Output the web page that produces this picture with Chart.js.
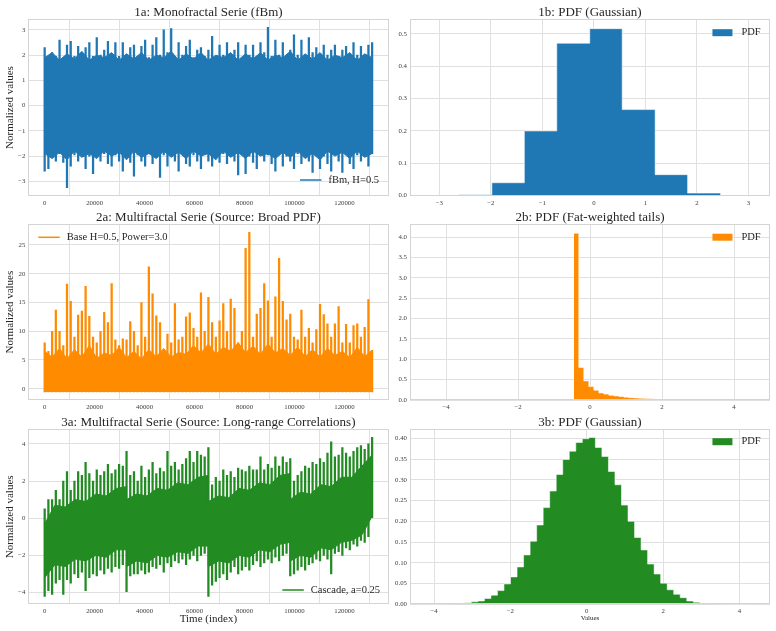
<!DOCTYPE html>
<html>
<head>
<meta charset="utf-8">
<script src="https://cdn.jsdelivr.net/npm/chart.js@4.4.1/dist/chart.umd.min.js"></script>
<style>
  html, body { margin: 0; padding: 0; background: #fff; }
  #figure { position: relative; width: 776px; height: 631px; overflow: hidden; }
  #figure canvas { position: absolute; }
</style>
</head>
<body>
<div id="figure"></div>
<script>
// ---- values ----
const SERIES_LAST = 131071;   // last sample index of every series
const tsTicks = [0, 20000, 40000, 60000, 80000, 100000, 120000];

// 1a: fBm, local highs / lows sampled every ~1490 steps, plus the jagged core band
const fbmHigh = [
  2.3, 1.9, 2.1, 1.95, 2.6, 1.9, 2.4, 2.55, 1.95, 2.35,
  1.9, 2.3, 2.5, 1.95, 2.7, 2.0, 2.2, 2.55, 1.9, 2.5,
  1.95, 2.5, 1.9, 2.3, 2.4, 1.95, 2.35, 2.6, 1.9, 2.4,
  2.7, 2.0, 3.0, 2.1, 3.05, 1.95, 2.5, 2.0, 2.35, 2.6,
  1.9, 2.2, 2.3, 1.95, 2.2, 2.75, 1.95, 2.4, 2.0, 2.5,
  1.95, 2.2, 2.5, 1.9, 2.4, 2.0, 2.4, 1.95, 2.5, 2.1,
  3.1, 1.95, 2.6, 2.0, 2.5, 1.9, 2.2, 2.8, 2.0, 2.6,
  1.95, 2.7, 2.1, 2.3, 1.9, 2.4, 2.0, 2.2, 2.4, 1.95,
  2.2, 2.35, 1.9, 2.5, 2.0, 2.35, 1.95, 2.4, 2.5
];
const fbmLow = [
  -2.6, -2.5, -1.95, -2.2, -1.9, -2.25, -3.25, -2.4, -1.95, -2.2,
  -1.9, -2.5, -2.0, -2.7, -1.95, -2.2, -1.9, -2.3, -2.4, -1.95,
  -2.2, -2.6, -1.9, -2.25, -2.8, -1.95, -2.2, -2.4, -1.9, -2.3,
  -2.0, -2.85, -1.95, -2.4, -2.0, -2.2, -2.6, -1.9, -2.3, -2.4,
  -1.95, -2.2, -2.5, -1.9, -2.2, -2.4, -1.95, -2.25, -1.9, -2.3,
  -2.0, -2.2, -2.75, -1.95, -2.7, -2.0, -2.25, -2.5, -1.9, -2.2,
  -1.95, -2.3, -2.6, -1.95, -2.4, -2.0, -2.2, -2.5, -1.9, -2.3,
  -2.0, -2.2, -2.65, -1.95, -2.5, -2.0, -2.3, -2.6, -1.95, -2.2,
  -2.65, -1.9, -2.3, -2.5, -1.95, -2.2, -2.0, -2.4, -1.9
];
const fbmCoreTop = [
  1.9, 2.1, 1.8, 2.05, 1.85, 2.15, 1.8, 2.0, 1.9, 2.1,
  1.8, 2.05, 1.85, 2.1, 1.8, 2.0, 1.9, 2.15, 1.8, 2.05,
  1.85, 2.1, 1.8, 2.0, 1.9, 2.1, 1.8, 2.05, 1.85, 2.1,
  1.8, 2.0, 1.9, 2.15, 1.8, 2.05, 1.85, 2.1, 1.8, 2.0,
  1.9, 2.1, 1.8, 2.05, 1.9
];
const fbmCoreBottom = [
  -1.9, -2.1, -1.85, -2.15, -1.8, -2.05, -1.9, -2.1, -1.8, -2.0,
  -1.85, -2.15, -1.8, -2.05, -1.9, -2.1, -1.8, -2.05, -1.85, -2.1,
  -1.8, -2.0, -1.9, -2.15, -1.8, -2.05, -1.85, -2.1, -1.8, -2.0,
  -1.9, -2.1, -1.85, -2.05, -1.8, -2.1, -1.9, -2.15, -1.8, -2.0,
  -1.85, -2.1, -1.8, -2.05, -1.9
];
const fbmTicksY = [-3, -2, -1, 0, 1, 2, 3];

// 1b: histogram of 1a (10 bins)
const gaussEdges = [-3.25, -2.62, -1.98, -1.35, -0.72, -0.08, 0.55, 1.19, 1.82, 2.46, 3.09];
const gaussDensity = [0.0003, 0.003, 0.040, 0.200, 0.471, 0.516, 0.266, 0.065, 0.008, 0.0005];
const pdf1TicksX = [-3, -2, -1, 0, 1, 2, 3];
const pdf1TicksY = [0, 0.1, 0.2, 0.3, 0.4, 0.5];

// 2a: broad-PDF series, peaks every ~1490 steps and the dense core top
const broadPeaks = [
  8.0, 6.5, 10, 13.7, 10, 7.5, 18.2, 15.2, 9, 12.8,
  13.5, 17.8, 12.6, 9, 8, 10, 13.3, 11.5, 18.3, 8.5,
  7.5, 8.7, 8.5, 11.7, 10, 7.5, 15, 9, 21.2, 16.5,
  12.7, 11.5, 6, 9.5, 8, 14.8, 8.5, 9, 12.5, 13.2,
  10.5, 9, 16.7, 10, 15.9, 11.5, 9, 11.8, 14.8, 10,
  15.6, 14, 8, 10, 24.4, 27.2, 9, 13, 14, 18.3,
  15.3, 9, 16, 22.7, 15.2, 12, 13, 9, 8.5, 13.7,
  9, 10.5, 8, 10.3, 14.7, 12.9, 11.3, 9, 11.3, 14.3,
  8, 11.2, 8, 11, 11.3, 9, 10.7, 15.5, 6.7
];
const broadCore = [
  6.5, 5.5, 7.0, 5.2, 6.8, 5.5, 7.5, 5.3, 6.2, 5.8,
  7.2, 5.4, 6.5, 5.2, 6.8, 5.6, 7.0, 5.5, 6.3, 6.0,
  7.5, 6.2, 7.8, 6.0, 7.2, 6.5, 8.0, 6.3, 7.4, 6.0,
  7.8, 6.2, 7.0, 5.8, 7.2, 5.6, 6.8, 5.5, 7.0, 5.8,
  6.5, 5.4, 7.2, 5.6, 6.7
];
const broadFloor = -0.57;
const broadTicksY = [0, 5, 10, 15, 20, 25];

// 2b: histogram with fat tail
const fatStart = -0.45;
const fatWidth = 0.139;
const fatDensity = [
  4.10, 0.80, 0.47, 0.33, 0.24, 0.175, 0.145, 0.115, 0.10, 0.085,
  0.07, 0.058, 0.049, 0.042, 0.036, 0.031, 0.027, 0.023, 0.020, 0.017,
  0.015, 0.013, 0.011, 0.010, 0.009, 0.008, 0.007, 0.006, 0.005
];
const pdf2TicksX = [-4, -2, 0, 2, 4];
const pdf2TicksY = [0, 0.5, 1, 1.5, 2, 2.5, 3, 3.5, 4];

// 3a: cascade, highs / lows every ~1490 steps and the sawtooth core band
const cascHigh = [
  0.5, 1.0, 1.0, 1.5, 1.0, 2.0, 2.5, 1.5, 2.0, 2.5, 2.3, 3.0, 2.4, 2.0, 2.6, 2.3, 2.5, 2.9, 2.4, 2.6, 2.9, 2.8,
  3.6,
  2.3, 2.5, 2.0, 2.8, 2.2, 2.6, 3.0, 2.4, 2.7, 2.5, 3.6, 2.8, 3.0, 2.6, 2.9, 3.2, 3.6, 3.0, 3.6, 3.4, 3.3,
  3.8,
  1.8, 2.2, 2.0, 2.6, 2.3, 2.5, 2.2, 2.7, 2.6, 2.5, 2.8, 2.6, 2.6, 3.3, 2.6, 2.9, 2.7, 3.3, 2.8, 3.3, 3.0,
  3.2,
  2.0, 2.3, 2.5, 2.8, 2.7, 3.0, 2.9, 3.2, 3.0, 3.5, 4.1, 3.3, 3.4, 3.8, 3.5, 3.3, 3.6, 3.8, 3.9, 3.7, 4.0, 4.35
];
const cascLow = [
  -4.2, -3.9, -4.1, -3.5, -3.3, -4.1, -3.3, -3.5, -3.0, -3.2, -2.9, -3.9, -3.2, -3.0, -3.1, -2.8, -3.0, -2.7, -2.9, -2.6, -2.7, -2.5,
  -3.95,
  -3.1, -3.0, -3.0, -2.8, -3.0, -2.9, -2.6, -2.7, -2.5, -2.9, -2.4, -2.6, -2.3, -2.4, -2.2, -2.5, -2.2, -2.0, -2.3, -2.0, -1.9,
  -4.2,
  -3.6, -3.4, -3.2, -3.0, -3.3, -2.9, -2.6, -3.0, -2.8, -2.6, -2.8, -2.5, -2.3, -2.6, -2.4, -2.2, -2.4, -2.1, -2.3, -2.0, -1.9,
  -3.1,
  -3.0, -2.8, -2.6, -2.8, -2.5, -2.4, -2.2, -2.3, -2.0, -2.2, -3.0, -1.9, -1.8, -2.0, -1.6, -1.7, -1.4, -1.5, -1.2, -1.3, -1.0, 0.0
];
const cascCoreX = [
  0, 4096, 8192, 12288, 16384, 20480, 24576, 28672, 32767,
  32768, 36864, 40960, 45056, 49152, 53248, 57344, 61440, 65535,
  65536, 69632, 73728, 77824, 81920, 86016, 90112, 94208, 98303,
  98304, 102400, 106496, 110592, 114688, 118784, 122880, 126976, 131071
];
const cascCoreTop = [
  -0.3, 0.7, 0.6, 1.0, 0.9, 1.3, 1.2, 1.6, 1.7,
  1.0, 1.3, 1.2, 1.6, 1.5, 1.9, 1.8, 2.2, 2.3,
  0.9, 1.2, 1.1, 1.6, 1.5, 1.9, 1.8, 2.3, 2.4,
  1.0, 1.4, 1.3, 1.8, 1.7, 2.2, 2.2, 2.8, 3.4
];
const cascCoreBottom = [
  -3.2, -2.5, -2.6, -2.2, -2.3, -2.0, -2.1, -1.7, -1.7,
  -2.6, -2.3, -2.4, -2.0, -2.1, -1.8, -1.9, -1.5, -1.5,
  -2.6, -2.3, -2.4, -2.0, -2.1, -1.7, -1.8, -1.4, -1.3,
  -2.3, -2.0, -2.1, -1.6, -1.7, -1.3, -1.2, -0.9, 0.1
];
const cascTicksY = [-4, -2, 0, 2, 4];

// 3b: histogram of 3a (50 bins)
const cascStart = -4.22;
const cascWidth = 0.171;
const cascDensity = [
  0.0001, 0.0002, 0.0004, 0.0006, 0.001, 0.002, 0.004, 0.006, 0.008, 0.014,
  0.022, 0.033, 0.049, 0.066, 0.090, 0.119, 0.152, 0.191, 0.233, 0.273,
  0.313, 0.349, 0.369, 0.390, 0.399, 0.402, 0.378, 0.356, 0.320, 0.288,
  0.239, 0.200, 0.161, 0.131, 0.097, 0.073, 0.051, 0.035, 0.024, 0.016,
  0.008, 0.005, 0.0025, 0.0015, 0.001, 0.0006, 0.0003, 0.0002, 0.0001, 0.0001
];
const pdf3TicksX = [-4, -2, 0, 2, 4];
const pdf3TicksY = [0, 0.05, 0.10, 0.15, 0.20, 0.25, 0.30, 0.35, 0.40];

// ---- styling ----
const SERIF = "'Liberation Serif', 'DejaVu Serif', serif";
const INK = '#262626';
const TICK = '#3a3a3a';
const GRID = '#e0e0e0';
const FRAME = '#d4d4d4';
const BLUE = '#1f77b4';
const ORANGE = '#ff8c00';
const GREEN = '#228b22';
const EDGE = 'rgba(255,255,255,0.55)';

// ---- helpers ----
const sampleX = (n, i) => Math.round(i * SERIES_LAST / (n - 1));
const along = vals => vals.map((v, i) => ({x: sampleX(vals.length, i), y: v}));
const paired = (xs, ys) => xs.map((x, i) => ({x: x, y: ys[i]}));
const needles = (lo, hi) => hi.map((h, i) => ({
  x: sampleX(hi.length, i),
  y: [Array.isArray(lo) ? lo[i] : lo, h]
}));
const binEdges = (start, width, n) => Array.from({length: n + 1}, (_, i) => +(start + i * width).toFixed(4));
function steps(edges, dens) {
  const pts = dens.map((d, i) => ({x: edges[i], y: d}));
  pts.push({x: edges[edges.length - 1], y: dens[dens.length - 1]});
  return pts;
}
const fmt = (v, digits) => (digits == null ? String(v) : v.toFixed(digits)).replace('-', '\u2212');

const panelDecor = {
  id: 'panelDecor',
  afterDraw(chart, _args, opts) {
    const {ctx, chartArea: a} = chart;
    const L = Math.round(a.left) + 0.5, T = Math.round(a.top) + 0.5;
    const R = Math.round(a.right) - 0.5, B = Math.round(a.bottom) - 0.5;
    ctx.save();
    ctx.strokeStyle = FRAME;
    ctx.lineWidth = 1;
    ctx.strokeRect(L, T, R - L, B - T);

    ctx.fillStyle = INK;
    ctx.textAlign = 'center';
    ctx.textBaseline = 'middle';
    ctx.font = '13px ' + SERIF;
    ctx.fillText(opts.title, (a.left + a.right) / 2, a.top - 7);

    const lg = opts.legend;
    ctx.font = '10.5px ' + SERIF;
    ctx.textAlign = 'left';
    const w = ctx.measureText(lg.text).width;
    let tx, ty;
    if (lg.corner === 'br') { tx = a.right - lg.inset - w; ty = a.bottom - lg.offset; }
    else if (lg.corner === 'tr') { tx = a.right - lg.inset - w; ty = a.top + lg.offset; }
    else { tx = a.left + lg.inset; ty = a.top + lg.offset; }
    if (lg.mark === 'line') {
      ctx.strokeStyle = lg.color;
      ctx.lineWidth = 1.5;
      ctx.beginPath();
      ctx.moveTo(tx - 28.5, ty);
      ctx.lineTo(tx - 7, ty);
      ctx.stroke();
    } else {
      ctx.fillStyle = lg.color;
      ctx.fillRect(tx - 29, ty - 3.5, 20, 7);
    }
    ctx.fillStyle = INK;
    ctx.fillText(lg.text, tx, ty);
    ctx.restore();
  }
};

function axis(spec, dir, size) {
  return {
    type: 'linear',
    min: spec.min,
    max: spec.max,
    offset: false,
    grid: {color: GRID, lineWidth: 1, drawTicks: false},
    border: {display: false},
    ticks: {
      font: {family: SERIF, size: 6.8},
      color: TICK,
      padding: 3,
      autoSkip: false,
      maxRotation: 0,
      callback: v => fmt(v, spec.digits)
    },
    afterBuildTicks: s => { s.ticks = spec.ticks.map(v => ({value: v})); },
    afterFit: s => { if (dir === 'x') s.height = size; else s.width = size; },
    title: spec.title ? {
      display: true,
      text: spec.title,
      color: INK,
      font: {family: SERIF, size: spec.titleSize},
      padding: spec.titlePad
    } : {display: false}
  };
}

const fig = document.getElementById('figure');
function panel(cfg) {
  const {rect, area} = cfg;
  const canvas = document.createElement('canvas');
  canvas.width = rect.w;
  canvas.height = rect.h;
  canvas.style.left = rect.x + 'px';
  canvas.style.top = rect.y + 'px';
  fig.appendChild(canvas);
  new Chart(canvas, {
    type: 'line',
    data: {datasets: cfg.datasets},
    options: {
      responsive: false,
      animation: false,
      events: [],
      layout: {padding: {top: area.t - rect.y, right: rect.x + rect.w - area.r, left: 0, bottom: 0}},
      plugins: {
        legend: {display: false},
        tooltip: {enabled: false},
        panelDecor: {title: cfg.title, legend: cfg.legend}
      },
      scales: {
        x: axis(cfg.x, 'x', rect.y + rect.h - area.b),
        y: axis(cfg.y, 'y', area.l - rect.x)
      }
    },
    plugins: [panelDecor]
  });
}

function band(top, bottom, color) {
  return [
    {type: 'line', data: top, borderColor: color, borderWidth: 1, pointRadius: 0, fill: false},
    {type: 'line', data: bottom, borderColor: color, borderWidth: 1, pointRadius: 0, fill: '-1', backgroundColor: color}
  ];
}
function spikes(lo, hi, color, thick) {
  return {type: 'bar', data: needles(lo, hi), backgroundColor: color, barThickness: thick, grouped: false};
}
function hist(edges, dens, color) {
  return [{
    type: 'line', data: steps(edges, dens), stepped: 'before', fill: 'origin',
    backgroundColor: color, borderColor: EDGE, borderWidth: 1, pointRadius: 0
  }];
}

const colA = {x: 0, w: 392, l: 28.3, r: 388.5};
const colB = {x: 392, w: 384, l: 410, r: 770};
const rows = [
  {y: 0, h: 206, t: 19.3, b: 195.7},
  {y: 206, h: 204, t: 224.3, b: 400},
  {y: 410, h: 221, t: 429.3, b: 604.3}
];
const place = (c, r) => ({
  rect: {x: c.x, y: r.y, w: c.w, h: r.h},
  area: {l: c.l, r: c.r, t: r.t, b: r.b}
});
const tsX = {min: -6554, max: 137626, ticks: tsTicks};
const yLabel = {title: 'Normalized values', titleSize: 11, titlePad: {top: 3.4, bottom: 0}};

// 1a
panel(Object.assign(place(colA, rows[0]), {
  title: '1a: Monofractal Serie (fBm)',
  datasets: [...band(along(fbmCoreTop), along(fbmCoreBottom), BLUE), spikes(fbmLow, fbmHigh, BLUE, 1.6)],
  x: tsX,
  y: Object.assign({min: -3.57, max: 3.42, ticks: fbmTicksY}, yLabel),
  legend: {mark: 'line', corner: 'br', text: 'fBm, H=0.5', color: BLUE, inset: 9.5, offset: 15.7}
}));

// 1b
panel(Object.assign(place(colB, rows[0]), {
  title: '1b: PDF (Gaussian)',
  datasets: hist(gaussEdges, gaussDensity, BLUE),
  x: {min: -3.57, max: 3.42, ticks: pdf1TicksX},
  y: {min: 0, max: 0.545, ticks: pdf1TicksY, digits: 1},
  legend: {mark: 'patch', corner: 'tr', text: 'PDF', color: BLUE, inset: 9.3, offset: 13.4}
}));

// 2a
panel(Object.assign(place(colA, rows[1]), {
  title: '2a: Multifractal Serie (Source: Broad PDF)',
  datasets: [
    {type: 'line', data: along(broadCore), borderColor: ORANGE, borderWidth: 1, pointRadius: 0,
     fill: {value: broadFloor}, backgroundColor: ORANGE},
    spikes(broadFloor, broadPeaks, ORANGE, 1.6)
  ],
  x: tsX,
  y: Object.assign({min: -1.96, max: 28.6, ticks: broadTicksY}, yLabel),
  legend: {mark: 'line', corner: 'tl', text: 'Base H=0.5, Power=3.0', color: ORANGE, inset: 38.5, offset: 13}
}));

// 2b
panel(Object.assign(place(colB, rows[1]), {
  title: '2b: PDF (Fat-weighted tails)',
  datasets: hist(binEdges(fatStart, fatWidth, fatDensity.length), fatDensity, ORANGE),
  x: {min: -5, max: 5, ticks: pdf2TicksX},
  y: {min: 0, max: 4.32, ticks: pdf2TicksY, digits: 1},
  legend: {mark: 'patch', corner: 'tr', text: 'PDF', color: ORANGE, inset: 9.3, offset: 12.9}
}));

// 3a
panel(Object.assign(place(colA, rows[2]), {
  title: '3a: Multifractal Serie (Source: Long-range Correlations)',
  datasets: [...band(paired(cascCoreX, cascCoreTop), paired(cascCoreX, cascCoreBottom), GREEN),
             spikes(cascLow, cascHigh, GREEN, 1.6)],
  x: Object.assign({title: 'Time (index)', titleSize: 11, titlePad: {top: 0, bottom: 5.1}}, tsX),
  y: Object.assign({min: -4.63, max: 4.78, ticks: cascTicksY}, yLabel),
  legend: {mark: 'line', corner: 'br', text: 'Cascade, a=0.25', color: GREEN, inset: 8.5, offset: 14.3}
}));

// 3b
panel(Object.assign(place(colB, rows[2]), {
  title: '3b: PDF (Gaussian)',
  datasets: hist(binEdges(cascStart, cascWidth, cascDensity.length), cascDensity, GREEN),
  x: {min: -4.63, max: 4.8, ticks: pdf3TicksX, title: 'Values', titleSize: 7, titlePad: {top: 0, bottom: 8.5}},
  y: {min: 0, max: 0.4217, ticks: pdf3TicksY, digits: 2},
  legend: {mark: 'patch', corner: 'tr', text: 'PDF', color: GREEN, inset: 9.3, offset: 12.4}
}));
</script>
</body>
</html>
